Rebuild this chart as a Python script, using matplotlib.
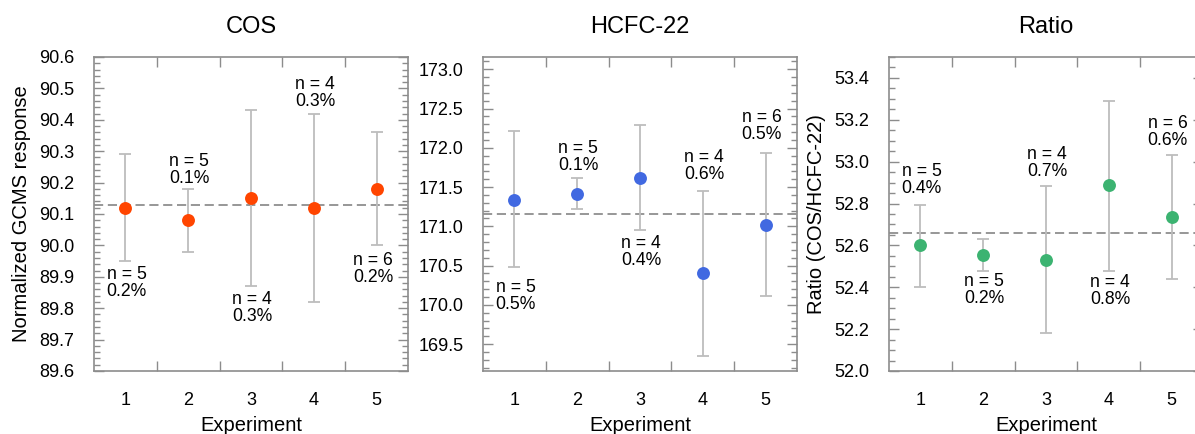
import matplotlib
matplotlib.use("Agg")
import matplotlib.pyplot as plt
from matplotlib.ticker import MultipleLocator, FixedLocator

plt.rcParams['font.family'] = ['Liberation Sans', 'DejaVu Sans']

experiments = [1, 2, 3, 4, 5]

# COS
cos_vals = [90.12, 90.08, 90.15, 90.12, 90.18]
cos_upper = [90.29, 90.18, 90.43, 90.42, 90.36]
cos_lower = [89.95, 89.98, 89.87, 89.82, 90.00]
cos_mean = 90.13
cos_n = [5, 5, 4, 4, 6]
cos_pct = ["0.2%", "0.1%", "0.3%", "0.3%", "0.2%"]

# HCFC-22
hcfc_vals = [171.34, 171.41, 171.62, 170.41, 171.02]
hcfc_upper = [172.21, 171.61, 172.29, 171.45, 171.93]
hcfc_lower = [170.48, 171.22, 170.95, 169.35, 170.11]
hcfc_mean = 171.16
hcfc_n = [5, 5, 4, 4, 6]
hcfc_pct = ["0.5%", "0.1%", "0.4%", "0.6%", "0.5%"]

# Ratio
ratio_vals = [52.60, 52.555, 52.53, 52.89, 52.735]
ratio_upper = [52.795, 52.63, 52.885, 53.29, 53.03]
ratio_lower = [52.40, 52.48, 52.18, 52.48, 52.44]
ratio_mean = 52.66
ratio_n = [5, 5, 4, 4, 6]
ratio_pct = ["0.4%", "0.2%", "0.7%", "0.8%", "0.6%"]

# label placement: +offset = above the upper whisker, -offset = below the lower one (points)
cos_lab_off = [-3.6, 1.7, -3.1, 2.2, -5.0]
hcfc_lab_off = [-8.6, 2.9, -3.4, 6.0, 7.4]
ratio_lab_off = [5.5, -1.9, 4.1, -2.4, 4.6]
lab_dx = [1, 1, 1, 1, -2.7]

fig = plt.figure(figsize=(11.95, 4.34), dpi=100)

panels = [
    dict(pos=[0.0787, 0.1452, 0.2628, 0.7235], title="COS", color="#FF4500",
         vals=cos_vals, up=cos_upper, lo=cos_lower, mean=cos_mean, n=cos_n, pct=cos_pct,
         off=cos_lab_off, ylim=(89.6, 90.6), major=0.1, minor=0.02,
         ylabel="Normalized GCMS response"),
    dict(pos=[0.4042, 0.1452, 0.2628, 0.7235], title="HCFC-22", color="#4169E1",
         vals=hcfc_vals, up=hcfc_upper, lo=hcfc_lower, mean=hcfc_mean, n=hcfc_n, pct=hcfc_pct,
         off=hcfc_lab_off, ylim=(169.157, 173.157), major=0.5, minor=0.1,
         ylabel=None),
    dict(pos=[0.7439, 0.1452, 0.2628, 0.7235], title="Ratio", color="#3CB371",
         vals=ratio_vals, up=ratio_upper, lo=ratio_lower, mean=ratio_mean, n=ratio_n, pct=ratio_pct,
         off=ratio_lab_off, ylim=(52.0, 53.5), major=0.2, minor=0.05,
         ylabel="Ratio (COS/HCFC-22)"),
]

spine_col = "#8c8c8c"

for p in panels:
    ax = fig.add_axes(p["pos"])
    vals, up, lo = p["vals"], p["up"], p["lo"]
    yerr = [[v - l for v, l in zip(vals, lo)], [u - v for u, v in zip(up, vals)]]
    ax.errorbar(experiments, vals, yerr=yerr, fmt="none", ecolor="#bdbdbd",
                elinewidth=1.3, capsize=4, capthick=1.3, zorder=2)
    ax.axhline(p["mean"], color="#858585", lw=1.2, ls=(0, (5.5, 2.8)), zorder=1)
    ax.plot(experiments, vals, "o", color=p["color"], ms=9.3, mec="none", zorder=3)

    for i, x in enumerate(experiments):
        off = p["off"][i]
        label = "n = {}\n{}".format(p["n"][i], p["pct"][i])
        if off > 0:
            ax.annotate(label, (x, up[i]), xytext=(lab_dx[i], off), textcoords="offset points",
                        ha="center", va="bottom", fontsize=12.7, linespacing=1.0,
                        multialignment="left")
        else:
            ax.annotate(label, (x, lo[i]), xytext=(lab_dx[i], off), textcoords="offset points",
                        ha="center", va="top", fontsize=12.7, linespacing=1.0,
                        multialignment="left")

    ax.set_xlim(0.5, 5.5)
    ax.set_ylim(*p["ylim"])
    ax.set_xticks(experiments)
    ax.xaxis.set_minor_locator(FixedLocator([1.5, 2.5, 3.5, 4.5]))
    ax.tick_params(axis="x", which="major", length=0, pad=15, labelsize=13)
    ax.tick_params(axis="x", which="minor", direction="in", length=7.5, width=1,
                   color=spine_col, top=True, bottom=True)
    ax.yaxis.set_major_locator(MultipleLocator(p["major"]))
    ax.yaxis.set_minor_locator(MultipleLocator(p["minor"]))
    ax.yaxis.set_major_formatter(plt.FuncFormatter(lambda v, _: "{:.1f}".format(v)))
    ax.tick_params(axis="y", which="major", direction="in", length=7.5, width=1,
                   color=spine_col, left=True, right=True, pad=14, labelsize=13)
    ax.tick_params(axis="y", which="minor", direction="in", length=4, width=1,
                   color=spine_col, left=True, right=True)
    for s in ax.spines.values():
        s.set_color(spine_col)
        s.set_linewidth(1.2)

    ax.set_title(p["title"], fontsize=17, pad=17)
    ax.set_xlabel("Experiment", fontsize=14.5, labelpad=5)
    if p["ylabel"]:
        ax.set_ylabel(p["ylabel"], fontsize=14.5, labelpad=6)

fig.savefig("out.png", dpi=100)
